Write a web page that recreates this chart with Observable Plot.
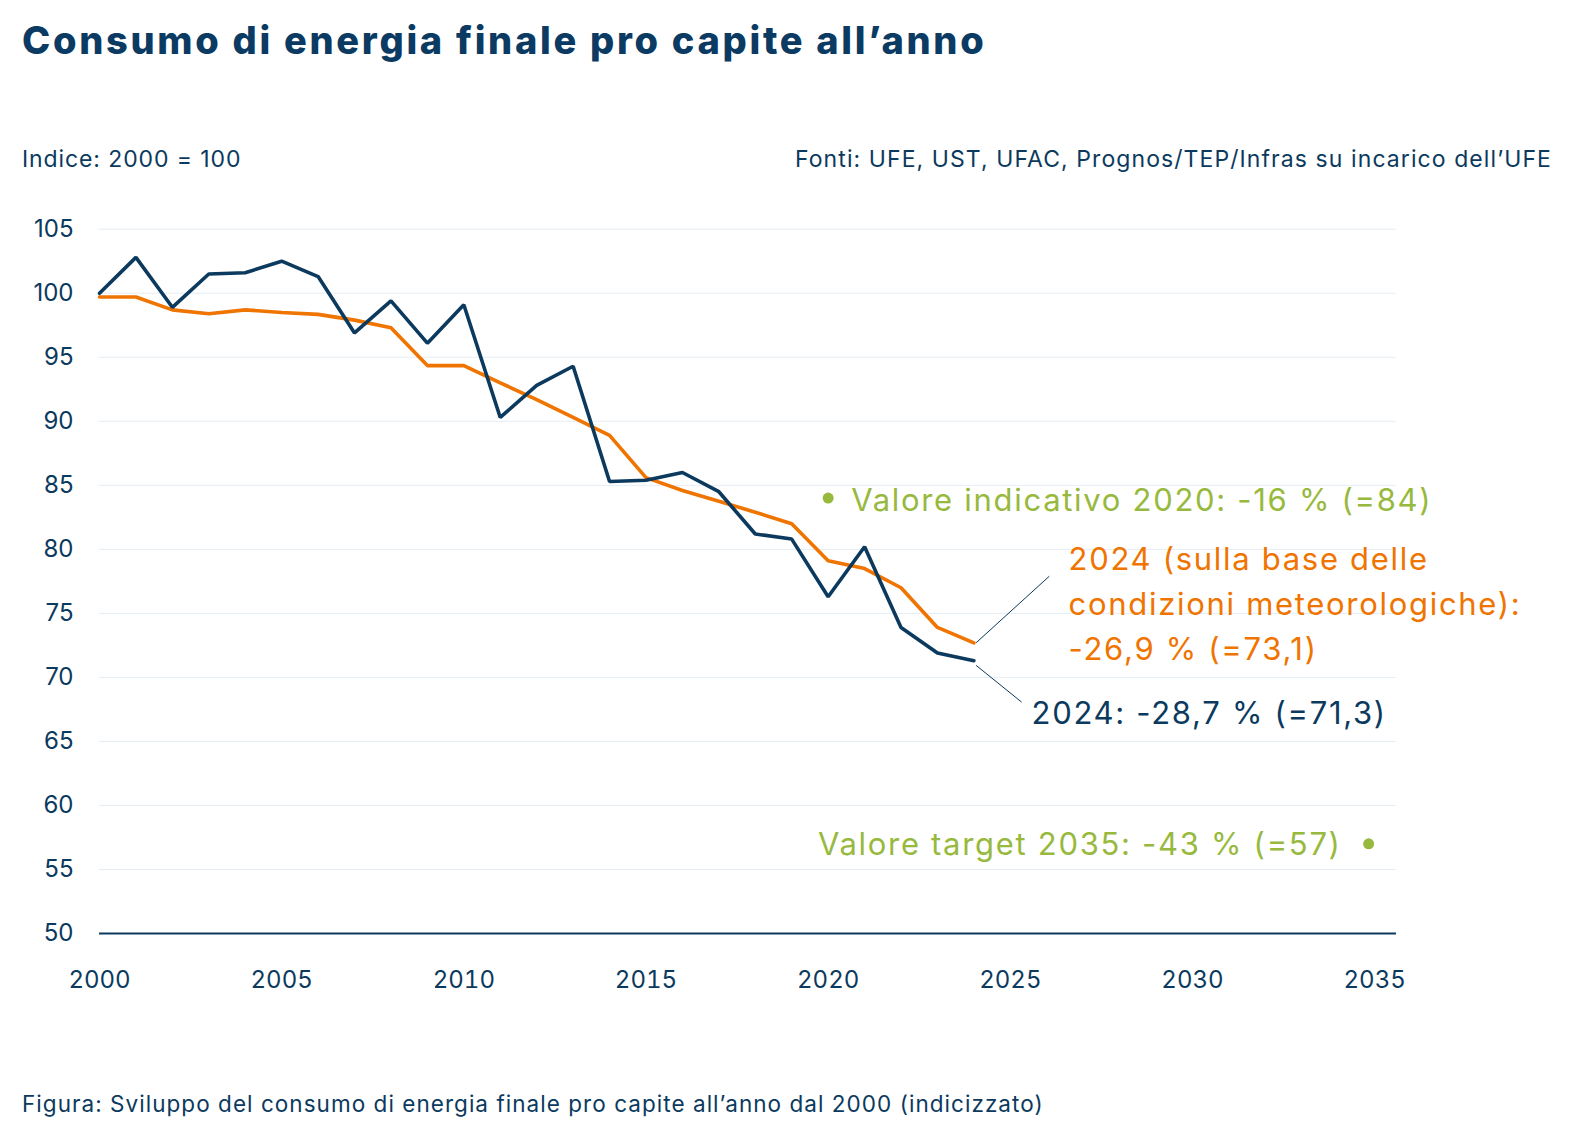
<!DOCTYPE html>
<html>
<head>
<meta charset="utf-8">
<script src="https://cdn.jsdelivr.net/npm/d3@7"></script>
<script src="https://cdn.jsdelivr.net/npm/@observablehq/plot@0.6"></script>
<style>
  html, body { margin: 0; padding: 0; background: #ffffff; }
  body { font-family: Inter, "Noto Sans", sans-serif; color: #0b3a5e; }
  #wrap { position: relative; width: 1589px; height: 1138px; overflow: hidden; }
  #title { position: absolute; left: 22px; top: 21px; font-size: 38px; line-height: 1; font-weight: 800; letter-spacing: 2.7px; white-space: nowrap; color: #0b3a63; }
  #unit { position: absolute; left: 22px; top: 148px; font-size: 23px; line-height: 1; letter-spacing: 0.9px; white-space: nowrap; }
  #source { position: absolute; right: 37px; top: 148px; font-size: 23px; line-height: 1; letter-spacing: 1.08px; white-space: nowrap; }
  #chart { position: absolute; left: 0; top: 190px; }
  #caption { position: absolute; left: 22px; top: 1093px; font-size: 22.5px; line-height: 1; letter-spacing: 1.04px; white-space: nowrap; }
</style>
</head>
<body>
<div id="wrap">
  <div id="title">Consumo di energia finale pro capite all’anno</div>
  <div id="unit">Indice: 2000 = 100</div>
  <div id="source">Fonti: UFE, UST, UFAC, Prognos/TEP/Infras su incarico dell’UFE</div>
  <div id="chart"></div>
  <div id="caption">Figura: Sviluppo del consumo di energia finale pro capite all’anno dal 2000 (indicizzato)</div>
</div>
<script>
// ---- data ----
const years = [2000, 2001, 2002, 2003, 2004, 2005, 2006, 2007, 2008, 2009, 2010, 2011, 2012,
               2013, 2014, 2015, 2016, 2017, 2018, 2019, 2020, 2021, 2022, 2023, 2024];
// effective final energy consumption per capita (index 2000 = 100)
const consumo = [100.0, 102.8, 98.9, 101.5, 101.6, 102.5, 101.3, 96.9, 99.4, 96.1, 99.1, 90.3, 92.8,
                 94.3, 85.3, 85.4, 86.0, 84.5, 81.2, 80.8, 76.3, 80.2, 73.9, 71.9, 71.3];
// weather-adjusted
const consumoMeteo = [99.7, 99.7, 98.7, 98.4, 98.7, 98.5, 98.35, 97.9, 97.3, 94.35, 94.35, 93.0, 91.7,
                      90.3, 88.9, 85.6, 84.6, 83.75, 82.9, 82.0, 79.1, 78.5, 77.0, 73.9, 72.7];
const targetYears = [2020, 2035];
const targetValues = [84, 57];
const targetLabels = ["Valore indicativo 2020: -16 % (=84)", "Valore target 2035: -43 % (=57)"];
const labelEffettivo = "2024: -28,7 % (=71,3)";
const labelMeteo = "2024 (sulla base delle\ncondizioni meteorologiche):\n-26,9 % (=73,1)";
const yTicks = [50, 55, 60, 65, 70, 75, 80, 85, 90, 95, 100, 105];
const xTicks = [2000, 2005, 2010, 2015, 2020, 2025, 2030, 2035];

// ---- styles ----
const navy = "#0b3a5e", orange = "#f07400", green = "#97b93e", grid = "#e4edf5";

const rows = years.map((year, i) => ({year, a: consumo[i], m: consumoMeteo[i]}));
const last = rows[rows.length - 1];
const targets = targetYears.map((year, i) => ({year, value: targetValues[i], label: targetLabels[i]}));

const plot = Plot.plot({
  width: 1589,
  height: 820,
  marginTop: 38.7,
  marginBottom: 77,
  marginLeft: 99,
  marginRight: 193,
  style: {fontFamily: "Inter, 'Noto Sans', sans-serif", fontSize: "24px", color: navy, background: "transparent", overflow: "visible"},
  x: {domain: [2000, 2035.6]},
  y: {domain: [50, 105]},
  marks: [
    Plot.ruleY(yTicks.filter(d => d > 50), {stroke: grid, strokeWidth: 1}),
    Plot.ruleY([50], {stroke: navy, strokeWidth: 2}),
    Plot.axisX({ticks: xTicks, tickFormat: d => String(d), label: null, tickSize: 0, tickPadding: 37}),
    Plot.axisY({ticks: yTicks, label: null, tickSize: 0, tickPadding: 26, fontVariant: "normal"}),
    Plot.line(rows, {x: "year", y: "m", stroke: orange, strokeWidth: 3.6, strokeLinejoin: "miter"}),
    Plot.line(rows, {x: "year", y: "a", stroke: navy, strokeWidth: 3.6, strokeLinejoin: "miter"}),
    // leader lines
    Plot.link([last], {x1: d => d.year + 0.06, y1: d => d.m, x2: d => d.year + 2.07, y2: d => d.m + 5.2, stroke: navy, strokeWidth: 1}),
    Plot.link([last], {x1: d => d.year + 0.06, y1: d => d.a - 0.36, x2: d => d.year + 1.31, y2: d => d.a - 3.23, stroke: navy, strokeWidth: 1}),
    // targets
    Plot.dot([targets[0]], {x: "year", y: "value", r: 5.5, fill: green}),
    Plot.dot([targets[1]], {x: "year", y: "value", r: 5.5, fill: green, dx: -6}),
    Plot.text([targets[0]], {x: "year", y: "value", text: "label", textAnchor: "start", dx: 23, dy: 3, fill: green, fontSize: 31}),
    Plot.text([targets[1]], {x: "year", y: "value", text: "label", textAnchor: "end", dx: -33, dy: 1.6, fill: green, fontSize: 31}),
    // end labels
    Plot.text([last], {x: "year", y: "m", text: () => labelMeteo, textAnchor: "start", lineAnchor: "middle", lineHeight: 45 / 31, dx: 94.7, dy: -42.4, fill: orange, fontSize: 31}),
    Plot.text([last], {x: "year", y: "a", text: () => labelEffettivo, textAnchor: "start", dx: 57.7, dy: 53, fill: navy, fontSize: 31})
  ]
});
// widen annotation lettering like the reference typeface
d3.select(plot).selectAll('g[aria-label="text"]').style("letter-spacing", "1.7px");
document.getElementById("chart").appendChild(plot);
</script>
</body>
</html>
